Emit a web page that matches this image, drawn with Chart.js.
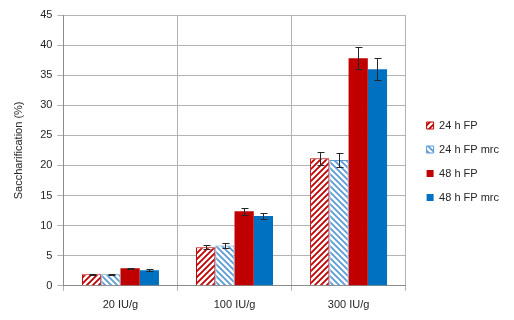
<!DOCTYPE html>
<html>
<head>
<meta charset="utf-8">
<script src="https://cdn.jsdelivr.net/npm/chart.js@4/dist/chart.umd.min.js"></script>
<style>
  html, body { margin: 0; padding: 0; background: #fff; }
</style>
</head>
<body>
<canvas id="chart" width="514" height="320"></canvas>
<script>
const categories = ['20 IU/g', '100 IU/g', '300 IU/g'];
const seriesNames = ['24 h FP', '24 h FP mrc', '48 h FP', '48 h FP mrc'];
const fp24 = [1.9, 6.4, 21.2];
const fp24mrc = [1.9, 6.7, 20.9];
const fp48 = [2.9, 12.4, 37.8];
const fp48mrc = [2.6, 11.6, 36.0];
const err24 = [0.1, 0.3, 1.1];
const err24mrc = [0.1, 0.4, 1.1];
const err48 = [0.1, 0.6, 1.8];
const err48mrc = [0.15, 0.5, 1.8];
const yTicks = [0, 5, 10, 15, 20, 25, 30, 35, 40, 45];

const RED = '#C00000';
const BLUE = '#0070C0';
const LIGHTBLUE = '#5B9BD5';

// diagonal stripes on white, dir 1 = "/" , -1 = "\"
function hatch(color, dir) {
    const s = 6;
    const c = document.createElement('canvas');
    c.width = s; c.height = s;
    const g = c.getContext('2d');
    g.fillStyle = '#fff';
    g.fillRect(0, 0, s, s);
    g.strokeStyle = color;
    g.lineWidth = 1.8;
    g.beginPath();
    if (dir > 0) {
        g.moveTo(-1, s + 1); g.lineTo(s + 1, -1);
        g.moveTo(-1, 1); g.lineTo(1, -1);
        g.moveTo(s - 1, s + 1); g.lineTo(s + 1, s - 1);
    } else {
        g.moveTo(-1, -1); g.lineTo(s + 1, s + 1);
        g.moveTo(s - 1, -1); g.lineTo(s + 1, 1);
        g.moveTo(-1, s - 1); g.lineTo(1, s + 1);
    }
    g.stroke();
    return g.createPattern(c, 'repeat');
}

const errorBars = {
    id: 'errorBars',
    afterDatasetsDraw(chart) {
        const ctx = chart.ctx;
        const y = chart.scales.y;
        ctx.save();
        ctx.strokeStyle = '#262626';
        ctx.lineWidth = 1;
        chart.data.datasets.forEach((ds, i) => {
            const meta = chart.getDatasetMeta(i);
            meta.data.forEach((bar, j) => {
                const v = ds.data[j], e = ds.errors[j];
                const x = Math.round(bar.x) + 0.5;
                const t = Math.round(y.getPixelForValue(v + e)) + 0.5;
                const b = Math.round(y.getPixelForValue(v - e)) + 0.5;
                ctx.beginPath();
                ctx.moveTo(x, t); ctx.lineTo(x, b);
                ctx.moveTo(x - 3, t); ctx.lineTo(x + 4, t);
                ctx.moveTo(x - 3, b); ctx.lineTo(x + 4, b);
                ctx.stroke();
            });
        });
        ctx.restore();
    }
};

// nudge the legend box without moving the plot area
const legendShift = {
    id: 'legendShift',
    afterLayout(chart) {
        const lg = chart.legend;
        lg.left += 8; lg.right += 8;
        lg.top -= 6; lg.bottom -= 6;
    }
};

const font = { family: '"Liberation Sans", Arial, sans-serif', size: 11 };

new Chart(document.getElementById('chart'), {
    type: 'bar',
    data: {
        labels: categories,
        datasets: [
            { label: seriesNames[0], data: fp24, errors: err24, backgroundColor: hatch(RED, 1), borderColor: RED, borderWidth: 1 },
            { label: seriesNames[1], data: fp24mrc, errors: err24mrc, backgroundColor: hatch(LIGHTBLUE, -1), borderColor: LIGHTBLUE, borderWidth: 1 },
            { label: seriesNames[2], data: fp48, errors: err48, backgroundColor: RED, borderColor: RED, borderWidth: 0 },
            { label: seriesNames[3], data: fp48mrc, errors: err48mrc, backgroundColor: BLUE, borderColor: BLUE, borderWidth: 0 }
        ]
    },
    options: {
        responsive: false,
        animation: false,
        layout: { padding: { top: 15, right: 13, left: 8, bottom: 0 } },
        datasets: { bar: { categoryPercentage: 0.675, barPercentage: 1.0 } },
        plugins: {
            legend: {
                position: 'right',
                labels: { boxWidth: 7, boxHeight: 7, padding: 13, color: '#262626', font: font }
            },
            tooltip: { enabled: false }
        },
        scales: {
            x: {
                grid: { color: '#B3B3B3', tickLength: 5, offset: true },
                border: { color: '#8C8C8C' },
                ticks: { color: '#262626', font: font, padding: 8 }
            },
            y: {
                min: 0, max: 45,
                afterBuildTicks(s) { s.ticks = yTicks.map(v => ({ value: v })); },
                grid: { color: '#B3B3B3', tickLength: 6 },
                border: { color: '#8C8C8C' },
                ticks: { color: '#262626', font: font, padding: 5 },
                title: { display: true, text: 'Saccharification (%)', color: '#262626', font: font, padding: { top: 4, bottom: 10 } }
            }
        }
    },
    plugins: [errorBars, legendShift]
});
</script>
</body>
</html>
